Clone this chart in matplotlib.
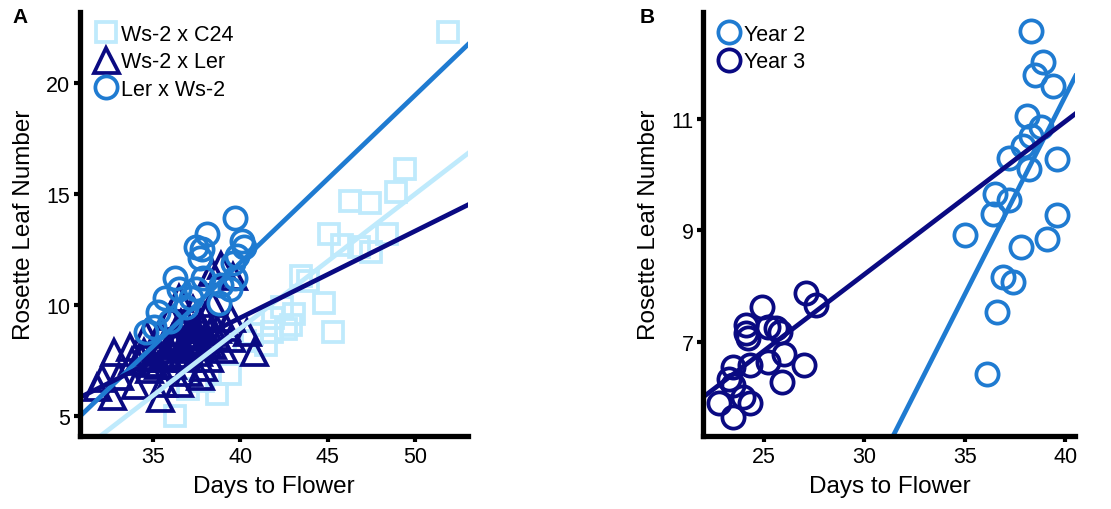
import matplotlib.pyplot as plt
import numpy as np

plt.rcParams['font.family'] = ['Liberation Sans', 'DejaVu Sans']

light = '#bfeafc'
mid = '#1f7bd1'
navy = '#0a0a82'

# panel A: days to flower vs rosette leaf number
c24_x = [51.9, 49.4, 48.9, 46.3, 47.4, 45.1, 45.8, 46.8, 48.4, 47.5, 43.5, 43.9,
         44.8, 45.3, 42.4, 41.9, 42.6, 41.8, 41.5, 39.4, 38.7, 37.0, 36.3, 37.9,
         40.7, 42.9, 43.1, 40.3]
c24_y = [22.3, 16.1, 15.1, 14.7, 14.6, 13.2, 12.7, 12.6, 13.2, 12.4, 11.3, 11.1,
         10.1, 8.8, 9.9, 9.4, 8.9, 8.8, 8.2, 6.9, 6.0, 6.2, 5.0, 6.6,
         8.7, 9.1, 9.6, 8.4]

ler_x = [32.8, 32.1, 32.7, 31.8, 33.7, 34.6, 34.0, 35.4, 36.0, 36.5, 38.4, 38.9,
         38.4, 39.6, 40.4, 40.8, 37.7, 38.2, 39.0, 39.5, 36.9, 37.7, 35.2, 36.1,
         37.2, 34.8, 35.6, 39.5, 38.0, 33.1, 33.8, 36.9, 38.6, 36.3, 37.3, 35.4,
         34.3, 36.5, 35.8, 37.0, 38.1, 36.6, 37.5, 35.0, 39.2, 34.5, 36.2, 37.9,
         35.6, 36.0, 36.4, 36.8, 37.1, 37.5, 37.8, 38.3, 35.3, 35.9, 36.7, 37.3,
         38.0, 38.7, 34.9, 35.7, 36.3, 37.0, 37.6, 38.4, 36.1, 36.9]
ler_y = [7.9, 6.7, 5.9, 6.3, 8.1, 8.7, 6.4, 5.8, 9.5, 10.3, 10.1, 11.8,
         11.5, 11.3, 8.8, 7.9, 6.8, 7.6, 8.0, 8.5, 8.6, 9.1, 8.2, 7.3,
         8.2, 7.1, 6.5, 9.4, 9.5, 6.8, 7.5, 7.6, 8.6, 8.8, 9.8, 8.8,
         7.7, 6.5, 7.8, 7.0, 8.3, 9.2, 8.9, 7.4, 9.0, 7.9, 8.3, 7.2,
         7.6, 8.0, 8.4, 8.1, 8.7, 8.4, 9.0, 8.8, 7.3, 7.7, 7.8, 8.9,
         8.6, 8.9, 7.6, 8.4, 8.2, 8.3, 7.9, 8.2, 8.5, 9.3]

wsl_x = [39.7, 38.1, 40.1, 37.5, 37.8, 37.7, 40.2, 39.8, 39.6, 36.3, 37.9, 39.7,
         39.4, 35.7, 36.5, 35.3, 35.1, 34.6, 37.5, 38.8, 38.9, 36.9, 37.2, 36.0]
wsl_y = [13.9, 13.2, 12.9, 12.6, 12.5, 12.1, 12.6, 12.2, 11.9, 11.2, 11.2, 11.2,
         10.7, 10.3, 10.7, 9.7, 9.0, 8.8, 10.7, 10.1, 10.9, 9.9, 10.3, 9.3]

# fitted lines (slope, intercept)
fit_c24 = (0.606, -15.3)
fit_ler = (0.391, -6.22)
fit_wsl = (0.755, -18.3)

# panel B
y2_x = [38.3, 38.9, 38.5, 39.4, 38.1, 38.8, 38.3, 37.9, 37.2, 39.6, 38.2, 36.5,
        37.2, 36.4, 39.6, 35.0, 39.1, 37.8, 36.9, 37.4, 36.6, 36.1]
y2_y = [12.58, 12.01, 11.78, 11.59, 11.05, 10.85, 10.70, 10.52, 10.30, 10.28, 10.10, 9.66,
        9.54, 9.30, 9.28, 8.92, 8.84, 8.70, 8.16, 8.07, 7.54, 6.43]
y3_x = [27.1, 27.6, 24.9, 24.1, 25.2, 25.6, 24.1, 24.2, 25.8, 26.0, 25.2, 27.0,
        24.3, 23.5, 23.3, 23.5, 25.9, 24.0, 22.8, 24.3, 23.5]
y3_y = [7.87, 7.66, 7.63, 7.30, 7.27, 7.24, 7.15, 7.06, 7.18, 6.79, 6.64, 6.58,
        6.58, 6.55, 6.34, 6.22, 6.28, 6.01, 5.90, 5.90, 5.66]
fit_y2 = (0.712, -17.07)
fit_y3 = (0.2746, -0.03)

fig = plt.figure(figsize=(11.11, 5.10), dpi=100)
axA = fig.add_axes([0.072, 0.143, 0.349, 0.832])
axB = fig.add_axes([0.633, 0.143, 0.335, 0.832])

mk = dict(linestyle='none', markerfacecolor='none', markeredgewidth=2.7)
axA.plot(c24_x, c24_y, marker='s', markersize=15, color=light, label='Ws-2 x C24', **mk)
axA.plot(ler_x, ler_y, marker='^', markersize=18, color=navy, label='Ws-2 x Ler', **mk)
axA.plot(wsl_x, wsl_y, marker='o', markersize=16, color=mid, label='Ler x Ws-2', **mk)

xlA = (30.85, 53.0)
xs = np.array(xlA)
axA.plot(xs, fit_c24[0] * xs + fit_c24[1], color=light, lw=3.4)
axA.plot(xs, fit_wsl[0] * xs + fit_wsl[1], color=mid, lw=3.4)
axA.plot(xs, fit_ler[0] * xs + fit_ler[1], color=navy, lw=3.4)
axA.set_xlim(xlA)
axA.set_ylim(4.1, 23.2)
axA.set_xticks([35, 40, 45, 50])
axA.set_yticks([5, 10, 15, 20])

axB.plot(y2_x, y2_y, marker='o', markersize=16, color=mid, label='Year 2', **mk)
axB.plot(y3_x, y3_y, marker='o', markersize=16, color=navy, label='Year 3', **mk)
xlB = (22.0, 40.5)
xs = np.array(xlB)
axB.plot(xs, fit_y2[0] * xs + fit_y2[1], color=mid, lw=3.4)
axB.plot(xs, fit_y3[0] * xs + fit_y3[1], color=navy, lw=3.4)
axB.set_xlim(xlB)
axB.set_ylim(5.31, 12.92)
axB.set_xticks([25, 30, 35, 40])
axB.set_yticks([7, 9, 11])

for ax in (axA, axB):
    for s in ('top', 'right'):
        ax.spines[s].set_visible(False)
    for s in ('left', 'bottom'):
        ax.spines[s].set_linewidth(3.8)
    ax.tick_params(width=3, length=4, labelsize=15.5, pad=3, colors='black')
    ax.set_xlabel('Days to Flower', fontsize=17.5, labelpad=6)
    ax.set_ylabel('Rosette Leaf Number', fontsize=17.5, labelpad=8)
    ax.legend(loc='upper left', frameon=False, fontsize=15.5, handletextpad=0.05,
              borderaxespad=0.15, labelspacing=0.3, handlelength=1.3)

fig.text(0.011, 0.965, 'A', fontsize=15, fontweight='bold', va='center')
fig.text(0.576, 0.965, 'B', fontsize=15, fontweight='bold', va='center')

fig.savefig('out.png', dpi=100)
